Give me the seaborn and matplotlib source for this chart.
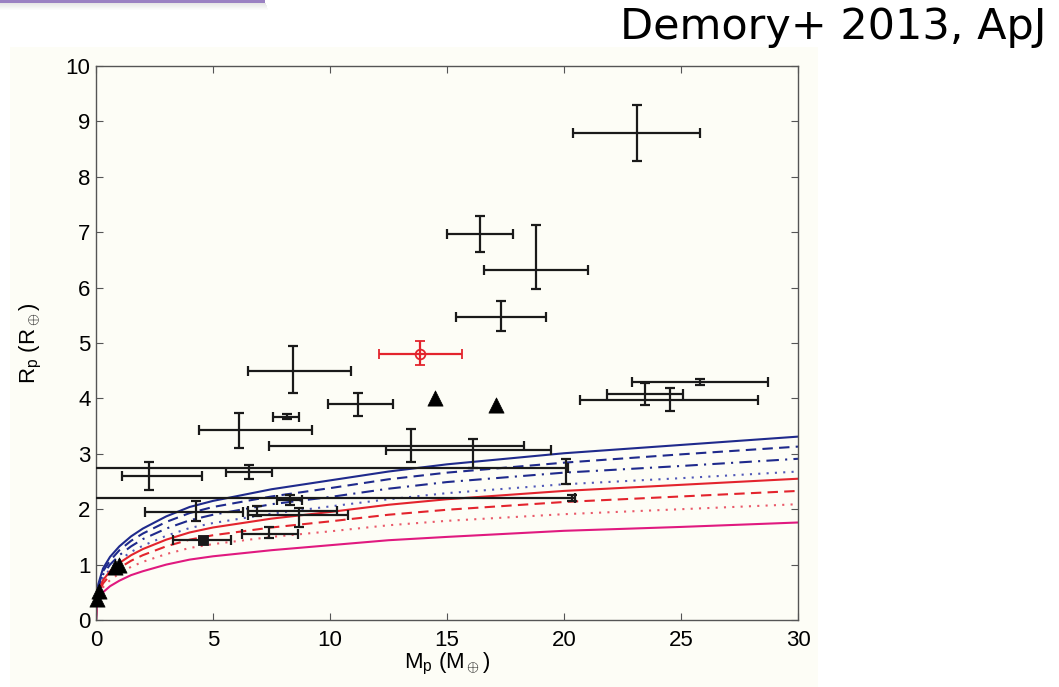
import numpy as np
import pandas as pd
import matplotlib
matplotlib.use("Agg")
import matplotlib.pyplot as plt
from matplotlib.patches import Rectangle
import seaborn as sns

# ---- planets with measured mass and radius (Earth units) ----
mass    = [23.10, 16.41, 18.80, 17.31, 8.43, 11.21, 8.15, 6.11, 25.81, 23.46, 24.53,
           13.46, 16.12, 20.10, 20.33, 2.28, 6.55, 4.27, 6.89, 8.69, 8.30, 7.41]
mass_lo = [2.70, 1.40, 2.21, 1.93, 1.92, 1.31, 0.57, 1.71, 2.92, 1.64, 3.85,
           6.06, 3.73, 20.60, 20.60, 1.18, 0.99, 2.18, 0.38, 2.18, 0.55, 1.18]
mass_hi = [2.70, 1.42, 2.24, 1.91, 2.47, 1.50, 0.54, 3.11, 2.92, 1.61, 3.77,
           4.84, 3.31, 0.08, 0.14, 2.23, 0.98, 2.02, 3.39, 2.09, 0.50, 1.24]
radius    = [8.79, 6.97, 6.32, 5.47, 4.50, 3.90, 3.67, 3.43, 4.30, 4.08, 3.98,
             3.14, 3.06, 2.75, 2.20, 2.60, 2.68, 1.95, 1.97, 1.90, 2.17, 1.56]
radius_lo = [0.50, 0.33, 0.35, 0.25, 0.41, 0.21, 0.05, 0.33, 0.06, 0.20, 0.21,
             0.29, 0.32, 0.30, 0.06, 0.25, 0.14, 0.17, 0.09, 0.22, 0.09, 0.08]
radius_hi = [0.50, 0.33, 0.81, 0.28, 0.45, 0.20, 0.05, 0.31, 0.05, 0.20, 0.21,
             0.30, 0.20, 0.15, 0.06, 0.25, 0.12, 0.19, 0.09, 0.12, 0.09, 0.11]

# planet drawn with a square marker
sq_mass, sq_mass_lo, sq_mass_hi = [4.57], [1.29], [1.19]
sq_radius, sq_radius_lo, sq_radius_hi = [1.44], [0.04], [0.04]

# highlighted planet
hl_mass, hl_mass_lo, hl_mass_hi = [13.85], [1.74], [1.78]
hl_radius, hl_radius_lo, hl_radius_hi = [4.81], [0.21], [0.23]

# Solar System planets (Mercury, Mars, Venus, Earth, Uranus, Neptune)
ss_mass   = [0.055, 0.107, 0.815, 1.0, 14.5, 17.1]
ss_radius = [0.38, 0.53, 0.95, 1.0, 4.01, 3.88]

# ---- theoretical mass-radius relations ----
curve_mass = [0.0, 0.02, 0.1, 0.3, 0.6, 1.0, 1.5, 2.0, 3.0, 4.0, 5.0, 7.5,
              10.0, 12.5, 15.0, 20.0, 25.0, 30.0]
r_water100 = [0.0, 0.39, 0.65, 0.93, 1.14, 1.33, 1.51, 1.65, 1.87, 2.04, 2.15, 2.36,
              2.52, 2.68, 2.81, 3.01, 3.16, 3.31]
r_water75  = [0.0, 0.37, 0.61, 0.88, 1.07, 1.26, 1.43, 1.56, 1.77, 1.93, 2.04, 2.23,
              2.38, 2.54, 2.66, 2.84, 2.99, 3.13]
r_water50  = [0.0, 0.34, 0.57, 0.82, 1.00, 1.17, 1.33, 1.46, 1.65, 1.80, 1.90, 2.09,
              2.22, 2.37, 2.49, 2.66, 2.78, 2.91]
r_water25  = [0.0, 0.32, 0.53, 0.76, 0.92, 1.08, 1.23, 1.34, 1.52, 1.66, 1.75, 1.92,
              2.05, 2.18, 2.29, 2.45, 2.56, 2.68]
r_rock     = [0.0, 0.30, 0.50, 0.72, 0.88, 1.03, 1.17, 1.28, 1.45, 1.58, 1.67, 1.83,
              1.95, 2.08, 2.18, 2.33, 2.44, 2.55]
r_iron25   = [0.0, 0.27, 0.46, 0.66, 0.81, 0.94, 1.07, 1.17, 1.33, 1.45, 1.53, 1.67,
              1.78, 1.90, 1.99, 2.13, 2.23, 2.33]
r_iron50   = [0.0, 0.25, 0.41, 0.59, 0.72, 0.84, 0.96, 1.05, 1.19, 1.30, 1.37, 1.50,
              1.60, 1.71, 1.79, 1.91, 2.00, 2.09]
r_iron100  = [0.0, 0.21, 0.35, 0.50, 0.61, 0.71, 0.81, 0.88, 1.00, 1.09, 1.15, 1.26,
              1.35, 1.44, 1.50, 1.61, 1.68, 1.76]

x_ticks = [0, 5, 10, 15, 20, 25, 30]
y_ticks = [0, 1, 2, 3, 4, 5, 6, 7, 8, 9, 10]

NAVY = "#1f2a8c"
RED = "#e3242d"
MAGENTA = "#e0197f"
PAPER = "#fdfdf6"
INK = "#1a1a1a"

sns.set_theme(style="ticks")
plt.rcParams["font.family"] = ["Liberation Sans", "DejaVu Sans"]
plt.rcParams["mathtext.fontset"] = "custom"
plt.rcParams["mathtext.rm"] = "Liberation Sans"
plt.rcParams["mathtext.it"] = "Liberation Sans:italic"
for key in ("text.color", "axes.labelcolor", "xtick.labelcolor", "ytick.labelcolor"):
    plt.rcParams[key] = "black"

W, H = 1059, 687
fig = plt.figure(figsize=(W / 100, H / 100), dpi=100)
fig.patch.set_facecolor("white")

# slide decoration: purple header bar with a soft shadow
fig.add_artist(Rectangle((0, 1 - 3 / H), 265 / W, 3 / H, transform=fig.transFigure,
                         facecolor="#9a80c2", edgecolor="none", zorder=5))
for i in range(7):
    fig.add_artist(Rectangle((0, 1 - (4 + i) / H), (266 + i * 0.3) / W, 1 / H,
                             transform=fig.transFigure, facecolor="black",
                             alpha=0.10 * (1 - i / 7), edgecolor="none", zorder=4))

# paper panel behind the chart
fig.add_artist(Rectangle((10 / W, 0), (818 - 10) / W, (H - 47) / H, transform=fig.transFigure,
                         facecolor=PAPER, edgecolor="none", zorder=-10))

ax = fig.add_axes([96 / W, (H - 620) / H, (798 - 96) / W, (620 - 66) / H])
ax.set_facecolor(PAPER)

curves = [
    (r_water100, NAVY, "-"),
    (r_water75, NAVY, (0, (5, 3))),
    (r_water50, NAVY, (0, (6, 3, 1, 3))),
    (r_water25, "#5058b8", (0, (1, 3))),
    (r_rock, RED, "-"),
    (r_iron25, RED, (0, (5, 3))),
    (r_iron50, "#ea5a6a", (0, (1, 3))),
    (r_iron100, MAGENTA, "-"),
]
for values, color, ls in curves:
    df = pd.DataFrame({"mass": curve_mass, "radius": values})
    sns.lineplot(data=df, x="mass", y="radius", ax=ax, color=color,
                 linestyle=ls, linewidth=1.5, sort=False, zorder=2)

eb = dict(fmt="none", ecolor=INK, elinewidth=1.6, capsize=3.5, capthick=1.6, zorder=3)
ax.errorbar(mass, radius, xerr=[mass_lo, mass_hi], yerr=[radius_lo, radius_hi], **eb)
ax.errorbar(sq_mass, sq_radius, xerr=[sq_mass_lo, sq_mass_hi],
            yerr=[sq_radius_lo, sq_radius_hi], **eb)
sns.scatterplot(x=sq_mass, y=sq_radius, marker="s", s=60, color=INK,
                edgecolor=INK, ax=ax, zorder=4)

ax.errorbar(hl_mass, hl_radius, xerr=[hl_mass_lo, hl_mass_hi],
            yerr=[hl_radius_lo, hl_radius_hi], fmt="o", mfc="none", mec=RED,
            ms=7, mew=1.3, ecolor=RED, elinewidth=1.6, capsize=3.5, capthick=1.6,
            zorder=4)
ax.plot(hl_mass, hl_radius, marker="+", ms=7, mew=1.2, color=RED, zorder=5)

sns.scatterplot(x=ss_mass, y=ss_radius, marker="^", s=120, color="black",
                edgecolor="black", linewidth=0.5, ax=ax, zorder=6, clip_on=False)

ax.set_xlim(0, 30)
ax.set_ylim(0, 10)
ax.set_xticks(x_ticks)
ax.set_yticks(y_ticks)
ax.tick_params(direction="in", length=5, width=0.8, color="#555555",
               top=True, right=True, labelsize=16, labelcolor="black")
ax.tick_params(axis="x", pad=7)
ax.tick_params(axis="y", pad=4)
for side in ax.spines.values():
    side.set_visible(True)
    side.set_color("#555555")
    side.set_linewidth(1.0)

ax.set_xlabel(r"M$_\mathregular{p}$ (M$_\oplus$)", fontsize=16, labelpad=0, color="black")
ax.set_ylabel(r"R$_\mathregular{p}$ (R$_\oplus$)", fontsize=16, color="black")
ax.yaxis.set_label_coords(-0.074, 0.5)

fig.text(1046 / W, 1 - 6 / H, "Demory+ 2013, ApJ", ha="right", va="top",
         fontsize=31, family="DejaVu Sans", color="black")

fig.savefig("out.png", dpi=100, facecolor=fig.get_facecolor())
